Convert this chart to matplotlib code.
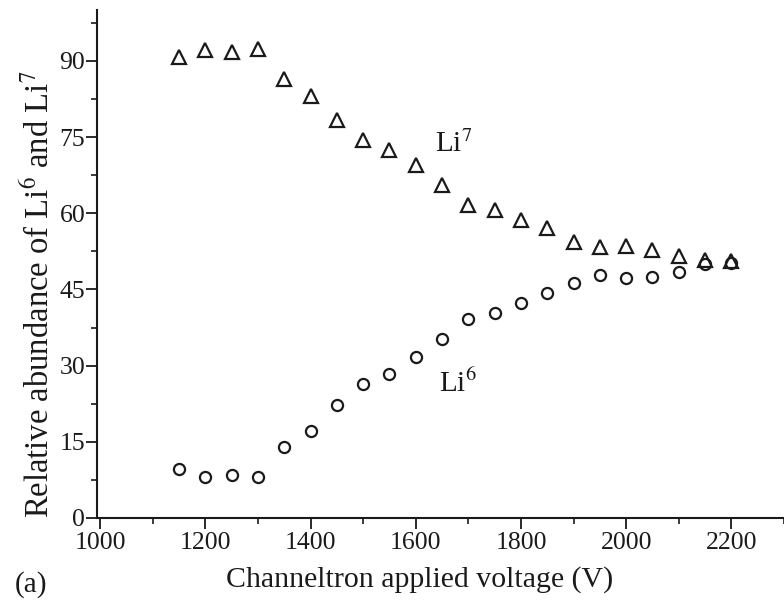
import matplotlib.pyplot as plt
from matplotlib.ticker import MultipleLocator

voltage = [1150, 1200, 1250, 1300, 1350, 1400, 1450, 1500, 1550, 1600, 1650,
           1700, 1750, 1800, 1850, 1900, 1950, 2000, 2050, 2100, 2150, 2200]
li7 = [90.7, 92.2, 91.7, 92.3, 86.4, 83.0, 78.3, 74.4, 72.4, 69.4, 65.6,
       61.6, 60.6, 58.7, 57.1, 54.3, 53.4, 53.6, 52.7, 51.6, 50.8, 50.6]
li6 = [9.6, 8.1, 8.5, 8.1, 14.0, 17.1, 22.3, 26.4, 28.3, 31.7, 35.3,
       39.2, 40.4, 42.3, 44.3, 46.3, 47.8, 47.3, 47.4, 48.4, 50.0, 50.2]

xticks = [1000, 1200, 1400, 1600, 1800, 2000, 2200]
yticks = [0, 15, 30, 45, 60, 75, 90]

plt.rcParams['font.family'] = ['Liberation Serif', 'DejaVu Serif']
plt.rcParams['mathtext.fontset'] = 'stix'

ink = '#1a1a1a'
fig = plt.figure(figsize=(7.84, 6.05), dpi=100)
ax = fig.add_axes([97 / 784, 87 / 605, 1 - 97 / 784, 508 / 605])

ax.plot(voltage, li7, linestyle='none', marker='^', markersize=9.5,
        markerfacecolor='none', markeredgecolor=ink, markeredgewidth=1.6)
ax.plot(voltage, li6, linestyle='none', marker='o', markersize=8,
        markerfacecolor='none', markeredgecolor=ink, markeredgewidth=1.6)

ax.set_xlim(994, 2300)
ax.set_ylim(0, 100)
ax.set_xticks(xticks)
ax.set_yticks(yticks)
ax.xaxis.set_minor_locator(MultipleLocator(100))
ax.yaxis.set_minor_locator(MultipleLocator(7.5))

for s in ['top', 'right']:
    ax.spines[s].set_visible(False)
for s in ['left', 'bottom']:
    ax.spines[s].set_linewidth(1.5)
    ax.spines[s].set_color(ink)

ax.tick_params(which='major', direction='out', length=8, width=1.3,
               colors=ink, labelsize=18.5)
ax.tick_params(which='minor', direction='out', length=4, width=1.2, colors=ink)
ax.tick_params(axis='y', which='major', pad=0.5)
ax.tick_params(axis='x', which='major', pad=2)

ax.set_xlabel('Channeltron applied voltage (V)', fontsize=21.5, color=ink)
ax.xaxis.set_label_coords(0.47, -0.094)
ax.set_ylabel(r'Relative abundance of Li$^6$ and Li$^7$', fontsize=23.5,
              color=ink)
ax.yaxis.set_label_coords(-0.06, 0.44)

ax.text(1636, 72, r'Li$^7$', fontsize=21, color=ink)
ax.text(1645, 24.8, r'Li$^6$', fontsize=21, color=ink)
fig.text(15 / 784, 1 - 592 / 605, '(a)', fontsize=21, color=ink)

fig.savefig('out.png', dpi=100)
